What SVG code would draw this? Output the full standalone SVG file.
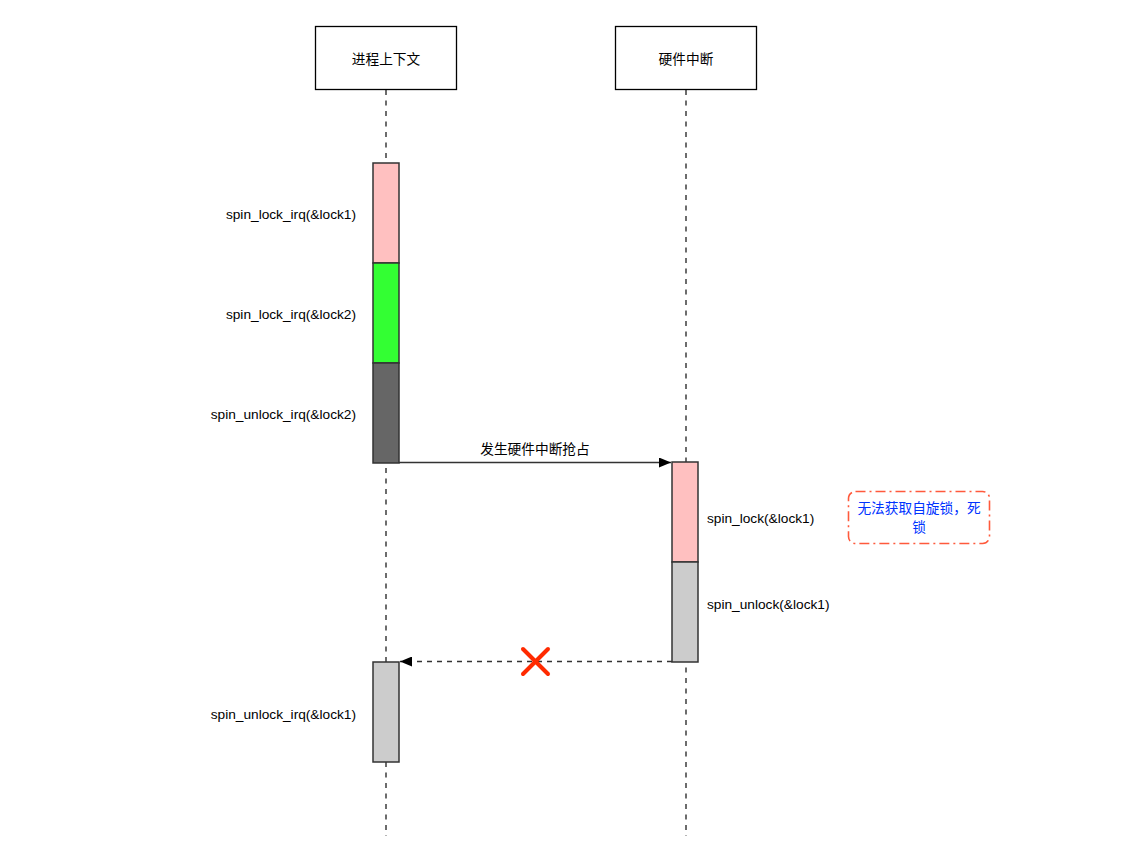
<svg xmlns="http://www.w3.org/2000/svg" width="1138" height="863" viewBox="0 0 1138 863">
<style>
text{font-family:"Liberation Sans","Noto Sans CJK SC",Arial,sans-serif;font-size:13.7px;fill:#000}
.hdr{fill:#fff;stroke:#000;stroke-width:1.3}
.life{stroke:#3c3c3c;stroke-width:1.5;stroke-dasharray:5 5.5;fill:none}
.act{stroke:#333;stroke-width:1.5}
.msg{stroke:#333;stroke-width:1.4;fill:none}
.r{text-anchor:end}
.m{text-anchor:middle}
</style>
<defs>
<marker id="ah" viewBox="0 0 12 10" refX="12" refY="5" markerWidth="12" markerHeight="10" markerUnits="userSpaceOnUse" orient="auto">
<path d="M0,0 L12,5 L0,10 Z" fill="#000"/>
</marker>
</defs>
<g id="connectors">
<line class="life" x1="386" y1="90" x2="386" y2="836"/>
<line class="life" x1="686" y1="90" x2="686" y2="836"/>
<line class="msg" x1="399" y1="462.5" x2="671" y2="462.5" marker-end="url(#ah)"/>
<text class="m" x="535" y="454">发生硬件中断抢占</text>
<line class="msg" x1="672" y1="661.5" x2="400" y2="661.5" stroke-dasharray="5 5" marker-end="url(#ah)"/>
<g id="cross" stroke="#ff2a00" stroke-width="4" stroke-linecap="round">
<line x1="523" y1="649" x2="548" y2="674"/>
<line x1="548" y1="649" x2="523" y2="674"/>
</g>
</g>
<g id="ctx">
<rect class="hdr" x="315.5" y="26.5" width="141" height="63"/>
<text class="m" x="386" y="64">进程上下文</text>
</g>
<g id="hwirq">
<rect class="hdr" x="615.5" y="26.5" width="141" height="63"/>
<text class="m" x="686" y="64">硬件中断</text>
</g>
<g id="a1"><rect class="act" x="373" y="163" width="26" height="100" fill="#ffc0c0"/><text class="r" x="356" y="219">spin_lock_irq(&amp;lock1)</text></g>
<g id="a2"><rect class="act" x="373" y="263" width="26" height="100" fill="#33ff33"/><text class="r" x="356" y="319">spin_lock_irq(&amp;lock2)</text></g>
<g id="a3"><rect class="act" x="373" y="363" width="26" height="100" fill="#666666"/><text class="r" x="356" y="419">spin_unlock_irq(&amp;lock2)</text></g>
<g id="b1"><rect class="act" x="672" y="462" width="26" height="100" fill="#ffc0c0"/><text x="707" y="523">spin_lock(&amp;lock1)</text></g>
<g id="b2"><rect class="act" x="672" y="562" width="26" height="100" fill="#cccccc"/><text x="707" y="609">spin_unlock(&amp;lock1)</text></g>
<g id="a4"><rect class="act" x="373" y="662" width="26" height="100" fill="#cccccc"/><text class="r" x="356" y="719">spin_unlock_irq(&amp;lock1)</text></g>
<g id="note">
<rect x="848.5" y="491.5" width="141" height="52" rx="7" fill="#fff" stroke="#ff5a3c" stroke-width="1.6" stroke-dasharray="10 4 2 4"/>
<text class="m" x="919" y="513" style="fill:#0033ff">无法获取自旋锁，死</text>
<text class="m" x="919" y="532" style="fill:#0033ff">锁</text>
</g>
</svg>
